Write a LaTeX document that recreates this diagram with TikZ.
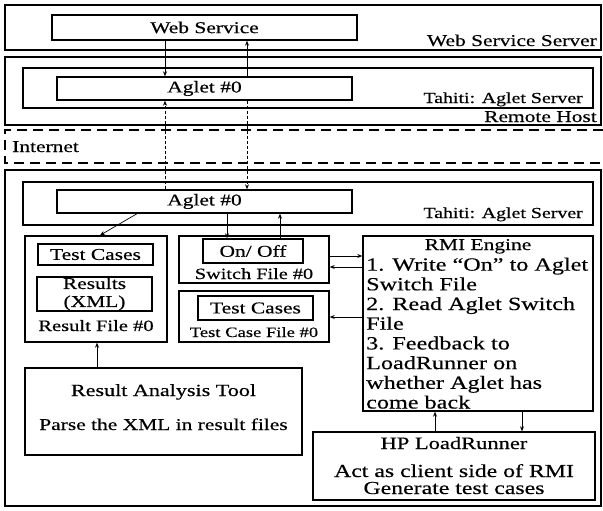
\documentclass[tikz,border=0pt]{standalone}
\usepackage{fontspec}
\setmainfont{Liberation Serif}[FakeStretch=1.3,FakeBold=0.4]
\usetikzlibrary{arrows.meta}

\begin{document}
\begin{tikzpicture}[x=1pt,y=-1pt,
  every node/.style={font=\fontsize{16.5}{19.5}\selectfont},
  box/.style={draw, line width=1.4pt, inner sep=0pt, align=center},
  lbl/.style={inner sep=0pt},
  arr/.style={line width=0.7pt, -{Stealth[length=5pt,width=4pt]}},
  dsh/.style={arr, dash pattern=on 3pt off 2pt},
  zone/.style={line width=1.4pt, dash pattern=on 10pt off 6pt}]
\useasboundingbox (0,0) rectangle (603,511);

% --- remote side ---
\node[box, minimum width=596, minimum height=45] (wss) at (303,27.5) {};
\node[box, minimum width=305, minimum height=25] (ws) at (204.5,27.5) {Web Service};
\node[lbl, anchor=base east] (wssl) at (597,46) {Web Service Server};

\node[box, minimum width=596, minimum height=68] (rh) at (303,91) {};
\node[lbl, anchor=base east] (rhl) at (597,122) {Remote Host};
\node[box, minimum width=570, minimum height=40] (tah1) at (308,88) {};
\node[lbl, anchor=base east, font=\fontsize{15.3}{18}\selectfont] (tah1l) at (583,103) {Tahiti: Aglet Server};
\node[box, minimum width=295, minimum height=23] (ag1) at (204.5,88.5) {Aglet \#0};

% --- internet band ---
\draw[zone] (603,130) -- (5,130) -- (5,163) -- (603,163);
\node[lbl, anchor=base west] (inet) at (12,152) {Internet};

% --- local host ---
\node[box, minimum width=596, minimum height=336] (loc) at (303,338) {};
\node[box, minimum width=570, minimum height=43] (tah2) at (308,203.5) {};
\node[lbl, anchor=base east, font=\fontsize{15.3}{18}\selectfont] (tah2l) at (583,218) {Tahiti: Aglet Server};
\node[box, minimum width=295, minimum height=23] (ag2) at (204.5,201.5) {Aglet \#0};

% result file
\node[box, minimum width=142, minimum height=106] (rf) at (96,289) {};
\node[box, minimum width=115, minimum height=21] (tc1) at (95.5,254.5) {Test Cases};
\node[box, minimum width=115, minimum height=34, font=\fontsize{16.5}{18}\selectfont] (rx) at (94.5,294) {Results\\(XML)};
\node[lbl, anchor=base, font=\fontsize{15.8}{18}\selectfont] (rfl) at (96,331) {Result File \#0};

% switch file
\node[box, minimum width=150, minimum height=47] (sf) at (254,259.5) {};
\node[box, minimum width=100, minimum height=24] (oo) at (253,251) {On/ Off};
\node[lbl, anchor=base, font=\fontsize{15.6}{18}\selectfont] (sfl) at (254,279) {Switch File \#0};

% test case file
\node[box, minimum width=150, minimum height=51] (tcf) at (254,316.5) {};
\node[box, minimum width=115, minimum height=24] (tc2) at (255.5,308) {Test Cases};
\node[lbl, anchor=base, font=\fontsize{14.3}{17}\selectfont] (tcfl) at (254,337) {Test Case File \#0};

% RMI engine
\node[box, minimum width=230, minimum height=175] (rmi) at (478,323.5) {};
\node[lbl, anchor=base] (rmit) at (478,250) {RMI Engine};
\node[lbl, anchor=north west, align=left, font=\fontsize{18.6}{19.7}\selectfont] (rmib) at (366,257.5)
  {1. Write “On” to Aglet\\Switch File\\2. Read Aglet Switch\\File\\3. Feedback to\\LoadRunner on\\whether Aglet has\\come back};

% result analysis tool
\node[box, minimum width=277, minimum height=87] (rat) at (163.5,411.5) {};
\node[lbl, anchor=base, font=\fontsize{17}{19}\selectfont] (ratt) at (163.5,396) {Result Analysis Tool};
\node[lbl, anchor=base, font=\fontsize{16.5}{19}\selectfont] (ratb) at (163.5,430) {Parse the XML in result files};

% HP LoadRunner
\node[box, minimum width=282, minimum height=68] (hp) at (454,466) {};
\node[lbl, anchor=base, font=\fontsize{17.3}{18}\selectfont] (hpt) at (454,449) {HP LoadRunner};
\node[lbl, anchor=base, font=\fontsize{18.3}{18}\selectfont] (hpb1) at (454,477) {Act as client side of RMI};
\node[lbl, anchor=base, font=\fontsize{18.3}{18}\selectfont] (hpb2) at (454,494) {Generate test cases};

% --- connector columns ---
\coordinate (xa) at (165,0);
\coordinate (xb) at (247,0);
\coordinate (xc) at (137,0);
\coordinate (xd) at (100,0);
\coordinate (xe) at (227,0);
\coordinate (xf) at (280,0);
\coordinate (xg) at (97,0);
\coordinate (xh) at (435,0);
\coordinate (xi) at (522,0);
\coordinate (ya) at (0,256);
\coordinate (yb) at (0,267);
\coordinate (yc) at (0,317);

\draw[arr] (xa |- ws.south) -- (xa |- ag1.north);
\draw[arr] (xb |- ag1.north) -- (xb |- ws.south);
\draw[dsh] (xa |- ag2.north) -- (xa |- ag1.south);
\draw[dsh] (xb |- ag1.south) -- (xb |- ag2.north);
\draw[arr] (xc |- ag2.south) -- (xd |- rf.north);
\draw[arr] (xe |- ag2.south) -- (xe |- oo.north);
\draw[arr] (xf |- oo.north) -- (xf |- ag2.south);
\draw[arr] (sf.east |- ya) -- (rmi.west |- ya);
\draw[arr] (rmi.west |- yb) -- (sf.east |- yb);
\draw[arr] (rmi.west |- yc) -- (tcf.east |- yc);
\draw[arr] (xg |- rat.north) -- (xg |- rf.south);
\draw[arr] (xh |- hp.north) -- (xh |- rmi.south);
\draw[arr] (xi |- rmi.south) -- (xi |- hp.north);
\end{tikzpicture}
\end{document}
